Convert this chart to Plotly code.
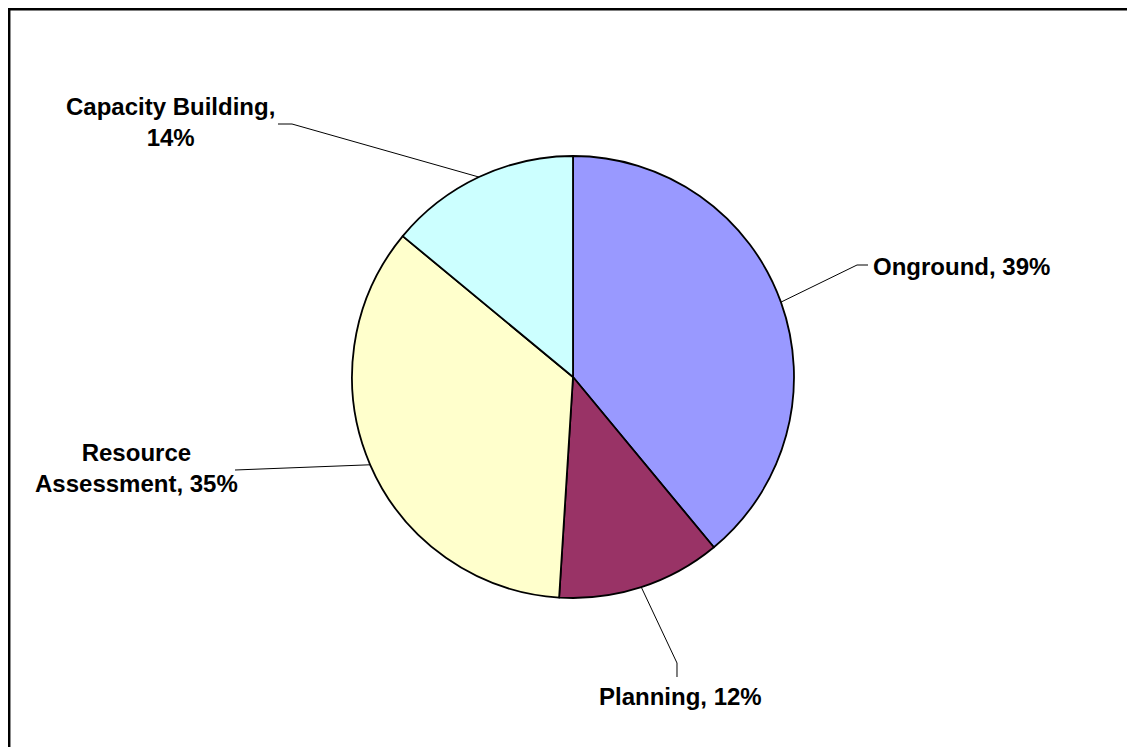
import math
import plotly.graph_objects as go

# ---- data ----
labels = ["Onground", "Planning", "Resource Assessment", "Capacity Building"]
values = [39, 12, 35, 14]
colors = ["#9999FF", "#993366", "#FFFFCC", "#CCFFFF"]
label_texts = ["Onground, 39%", "Planning, 12%", "Resource<br>Assessment, 35%", "Capacity Building,<br>14%"]

# ---- layout geometry (pixels, page coordinates) ----
PAGE_W, PAGE_H = 1135, 747
OFF = 8  # page body margin offset
W, H = PAGE_W - OFF, PAGE_H - OFF
CX, CY, R = 573, 377, 221

def px(x):
    return (x - OFF) / W

def py(y):
    return 1 - (y - OFF) / H

# label placement (pixels): anchor x, y, xanchor, elbow points from label to slice edge
label_layout = [
    dict(x=871, y=266, xanchor="left", elbow=[(868, 265), (857, 265)]),
    dict(x=680, y=696, xanchor="center", elbow=[(677, 677), (677, 663)]),
    dict(x=136, y=468, xanchor="center", elbow=[(235, 470)]),
    dict(x=170, y=122, xanchor="center", elbow=[(278, 124), (292, 124)]),
]

fig = go.Figure(
    go.Pie(
        labels=labels,
        values=values,
        sort=False,
        direction="clockwise",
        rotation=0,
        textinfo="none",
        hoverinfo="label+percent",
        marker=dict(colors=colors, line=dict(color="black", width=1.8)),
        domain=dict(x=[px(CX - R), px(CX + R)], y=[py(CY + R), py(CY - R)]),
        showlegend=False,
    )
)

total = sum(values)
cum = 0
shapes = []
annotations = []
for i, v in enumerate(values):
    mid = (cum + v / 2) / total * 2 * math.pi
    cum += v
    ex = CX + R * math.sin(mid)
    ey = CY - R * math.cos(mid)
    lay = label_layout[i]
    pts = lay["elbow"] + [(ex, ey)]
    path = "M " + " L ".join(f"{px(a):.5f},{py(b):.5f}" for a, b in pts)
    shapes.append(dict(type="path", xref="paper", yref="paper", path=path,
                       line=dict(color="black", width=1)))
    annotations.append(dict(
        x=px(lay["x"]), y=py(lay["y"]), xref="paper", yref="paper",
        xanchor=lay["xanchor"], yanchor="middle", showarrow=False,
        text=label_texts[i], align="center",
        font=dict(family="Liberation Sans, Arial, sans-serif", size=24, color="black", weight="bold"),
    ))

# outer chart frame (right and bottom sides lie outside the visible area)
shapes.append(dict(type="rect", xref="paper", yref="paper",
                   x0=px(9.2), x1=px(PAGE_W + 20), y0=py(9.2), y1=py(PAGE_H + 20),
                   line=dict(color="black", width=2.5), fillcolor="rgba(0,0,0,0)"))

fig.update_layout(
    width=W, height=H,
    margin=dict(l=0, r=0, t=0, b=0),
    paper_bgcolor="white",
    plot_bgcolor="white",
    shapes=shapes,
    annotations=annotations,
)

fig.write_html("out.html")
